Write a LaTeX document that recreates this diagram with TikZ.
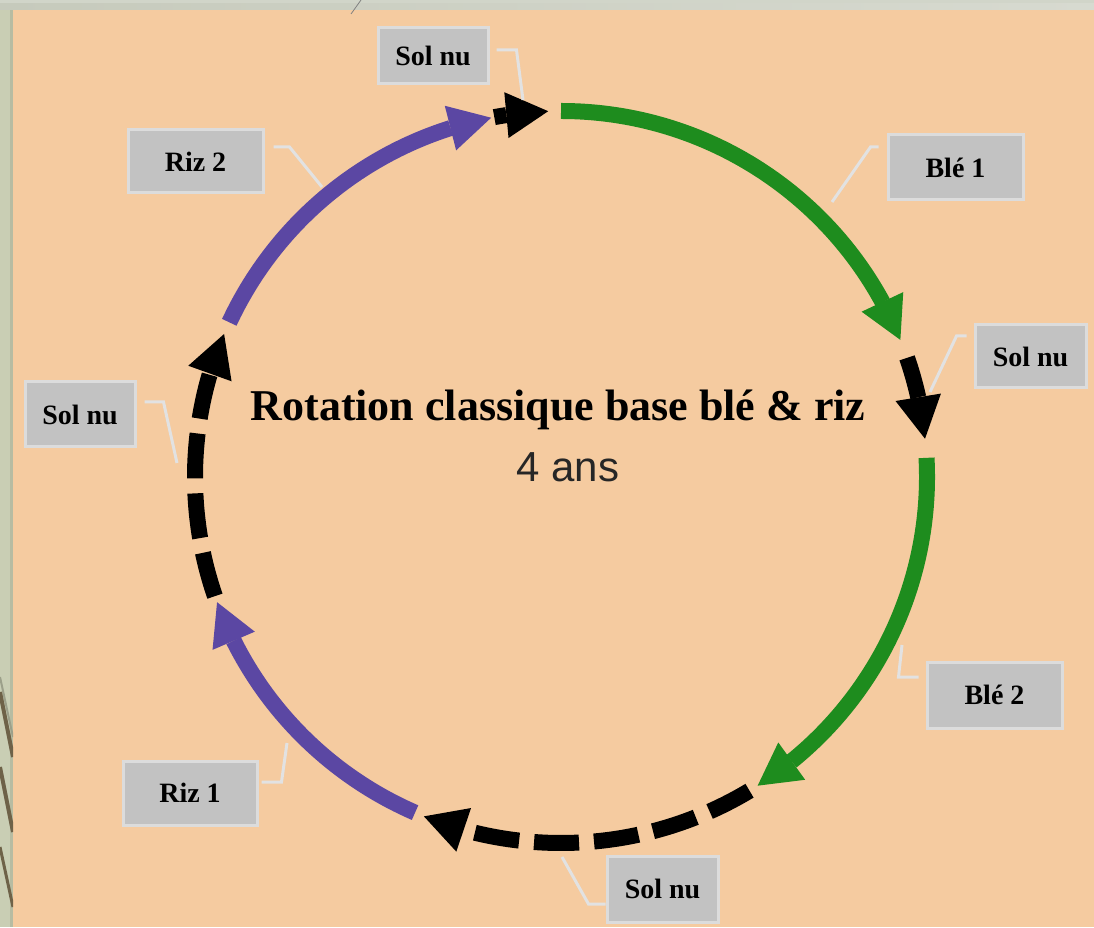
\documentclass[tikz,border=0pt]{standalone}
\usepackage{fontspec}
\setmainfont{Liberation Serif}
\newfontfamily\labelsans{Liberation Sans}
\usetikzlibrary{arrows.meta,bending}
\definecolor{peach}{HTML}{F5CBA0}
\definecolor{wheat}{HTML}{1E8C1E}
\definecolor{rice}{HTML}{5B47A3}
\definecolor{boxgray}{HTML}{C2C2C2}
\definecolor{boxedge}{HTML}{DCDCDC}
\definecolor{leadgray}{HTML}{E2E2E2}
\definecolor{frameside}{HTML}{C9CEB4}
\definecolor{frameline}{HTML}{B7BCA2}
\definecolor{frametop}{HTML}{C6CABC}
\definecolor{bark}{HTML}{6E6248}
\begin{document}
\begin{tikzpicture}[x=1pt,y=1pt,
  seg/.style={line width=16pt,-{Triangle[length=42pt,width=46pt,line width=0pt]}},
  crop/.style={seg,draw=#1},
  fallow/.style={seg,draw=black,dash pattern=on 45pt off 15pt},
  tag/.style={draw=boxedge,line width=3pt,fill=boxgray,inner sep=0pt,
    font=\bfseries\fontsize{28}{28}\selectfont},
  leader/.style={draw=leadgray,line width=3pt}]
% frame and background
\useasboundingbox (0,0) rectangle (1094,927);
\fill[peach] (0,0) rectangle (1094,927);
\fill[frameside] (0,0) rectangle (13,927);
\fill[frameline] (10,0) rectangle (13,917);
\shade[left color=frametop,right color=frametop!70!white] (0,917) rectangle (1094,927);
\fill[frametop!80!white] (0,924) rectangle (1094,927);
\begin{scope}
  \clip (0,0) rectangle (13,917);
  \draw[frameline!85!black,line width=2pt] (0,250) -- (13,190);
  \draw[bark,line width=4pt] (0,235) -- (13,170);
  \draw[bark,line width=4pt] (0,160) -- (13,95);
  \draw[bark,line width=3pt] (0,80) -- (13,20);
\end{scope}
\draw[gray,line width=0.8pt] (351,913) -- (361,927);

% ring of the rotation
\coordinate (O) at (561,450);
\draw[crop=wheat] ([shift={(90:366)}]O) arc[start angle=90,end angle=22,radius=366];
\draw[fallow] ([shift={(19:366)}]O) arc[start angle=19,end angle=6,radius=366];
\draw[crop=wheat] ([shift={(3:366)}]O) arc[start angle=3,end angle=-57.5,radius=366];
\draw[fallow] ([shift={(-59:366)}]O) arc[start angle=-59,end angle=-112,radius=366];
\draw[crop=rice] ([shift={(-113.5:366)}]O) arc[start angle=-113.5,end angle=-160,radius=366];
\draw[fallow] ([shift={(199:366)}]O) arc[start angle=199,end angle=157,radius=366];
\draw[crop=rice] ([shift={(155:366)}]O) arc[start angle=155,end angle=101,radius=366];
\draw[fallow] ([shift={(100.5:366)}]O) arc[start angle=100.5,end angle=92,radius=366];

% title
\node (title) at (558,517) {\bfseries\fontsize{44}{44}\selectfont Rotation classique base blé \& riz};
\node[text=black!85] (span) at (568,460) {\labelsans\fontsize{42}{42}\selectfont 4 ans};

% labels
\node[tag,minimum width=110pt,minimum height=56pt] (solA) at (433,871) {Sol nu};
\node[tag,minimum width=135pt,minimum height=63pt] (riz2) at (195.5,765.5) {Riz 2};
\node[tag,minimum width=135pt,minimum height=65pt] (ble1) at (955.5,759.5) {Blé 1};
\node[tag,minimum width=111pt,minimum height=63pt] (solB) at (1030.5,570.5) {Sol nu};
\node[tag,minimum width=135pt,minimum height=66pt] (ble2) at (994.5,232) {Blé 2};
\node[tag,minimum width=111pt,minimum height=66pt] (solC) at (662.5,38) {Sol nu};
\node[tag,minimum width=134pt,minimum height=64pt] (riz1) at (190,134) {Riz 1};
\node[tag,minimum width=110pt,minimum height=65pt] (solD) at (80,512.5) {Sol nu};

% leader ends on the ring
\coordinate (pA) at (523,827);
\coordinate (pR2) at (322,740);
\coordinate (pB1) at (832,725);
\coordinate (pSB) at (930,535);
\coordinate (pB2) at (902,282);
\coordinate (pSC) at (562,70);
\coordinate (pR1) at (287,184);
\coordinate (pSD) at (177,464);

% leaders
\draw[leader] ([shift={(7,6)}]solA.east) -- ++(20,0) -- (pA);
\draw[leader] ([shift={(9,14.5)}]riz2.east) -- ++(16,0) -- (pR2);
\draw[leader] ([shift={(-8,20.5)}]ble1.west) -- ++(-8,0) -- (pB1);
\draw[leader] ([shift={(-7,20.5)}]solB.west) -- ++(-10,0) -- (pSB);
\draw[leader] ([shift={(-7,18)}]ble2.west) -- ++(-20,0) -- (pB2);
\draw[leader] ([shift={(0,-15)}]solC.west) -- ++(-17,0) -- (pSC);
\draw[leader] ([shift={(3,11)}]riz1.east) -- ++(20,0) -- (pR1);
\draw[leader] ([shift={(8,12.5)}]solD.east) -- ++(19,0) -- (pSD);
\end{tikzpicture}
\end{document}
